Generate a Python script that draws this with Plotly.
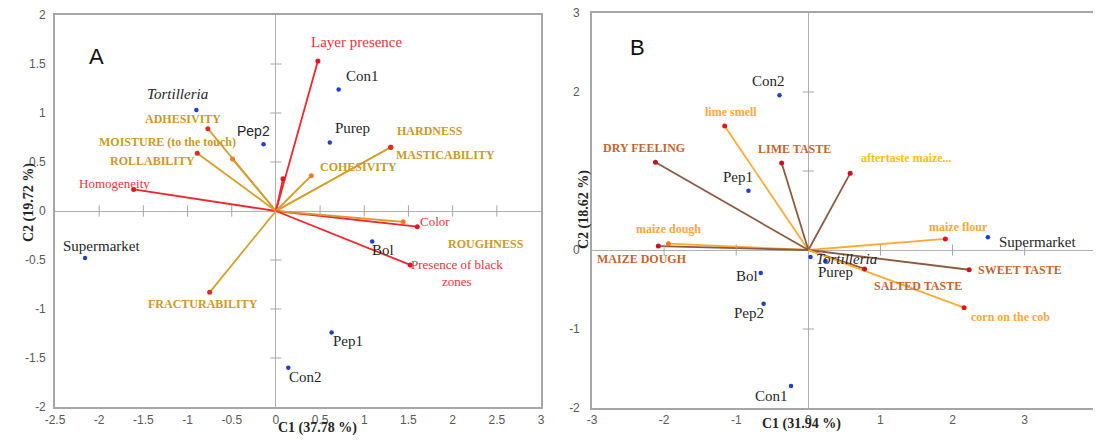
import plotly.graph_objects as go

# the page body adds an 8 px margin, so the figure is drawn 8 px smaller and all layout pixels are offset
OFF = 8
W, H = 1101 - OFF, 448 - OFF


def px(x):
    return (x - OFF) / W


def py(y):
    return 1 - (y - OFF) / H


# ---------------- Panel A data ----------------
A_samples = ["<i>Tortilleria</i>", "Pep2", "Con1", "Purep", "Supermarket", "Bol", "Pep1", "Con2"]
A_samp_x = [-0.90, -0.14, 0.71, 0.61, -2.16, 1.09, 0.63, 0.14]
A_samp_y = [1.03, 0.68, 1.24, 0.70, -0.48, -0.31, -1.24, -1.60]
A_samp_shift = [(-19, 16), (-10, 13), (24, 13), (23, 14), (16, 12), (11, -9), (16, -8), (17, -9)]
A_samp_font = ["Liberation Serif", "Liberation Sans", "Liberation Serif", "Liberation Serif",
               "Liberation Serif", "Liberation Serif", "Liberation Serif", "Liberation Serif"]

A_vars = ["Homogeneity", "ADHESIVITY", "MOISTURE (to the touch)", "ROLLABILITY", "Layer presence", "",
          "COHESIVITY", "HARDNESS", "MASTICABILITY", "Color", "ROUGHNESS",
          "Presence of black<br>zones", "FRACTURABILITY"]
A_var_x = [-1.61, -0.77, -0.49, -0.89, 0.475, 0.08, 0.40, 1.30, 1.30, 1.60, 1.44, 1.52, -0.75]
A_var_y = [0.22, 0.84, 0.53, 0.59, 1.53, 0.33, 0.36, 0.65, 0.65, -0.16, -0.11, -0.55, -0.83]
A_var_group = ["red", "gold", "gold2", "gold", "red", "red", "gold2", "gold", "gold", "red", "gold2", "red", "gold"]
A_var_shift = [(-19, 6), (-25, 10), (-65, 17), (-45, -8), (39, 19), (0, 0), (47, 9), (39, 16), (55, -8),
               (18, 5), (83, -22), (47, -8), (-7, -12)]

# ---------------- Panel B data ----------------
B_samples = ["Con2", "Pep1", "<i>Tortilleria</i>", "Purep", "Bol", "Pep2", "Con1", "Supermarket"]
B_samp_x = [-0.40, -0.83, 0.03, 0.24, -0.66, -0.62, -0.24, 2.49]
B_samp_y = [1.96, 0.75, -0.09, -0.14, -0.29, -0.68, -1.72, 0.16]
B_samp_shift = [(-11, 14), (-10, 14), (36, -2), (10, -11), (-14, -3), (-15, -9), (-20, -10), (50, -5)]

B_vars = ["lime smell", "DRY FEELING", "LIME TASTE", "aftertaste maize...", "maize dough", "MAIZE DOUGH",
          "maize flour", "SWEET TASTE", "SALTED TASTE", "corn on the cob"]
B_var_x = [-1.16, -2.12, -0.37, 0.58, -1.94, -2.08, 1.90, 2.23, 0.78, 2.16]
B_var_y = [1.57, 1.11, 1.10, 0.97, 0.08, 0.05, 0.14, -0.25, -0.24, -0.73]
B_var_group = ["orange", "brown", "brown", "yellow", "orange", "brown", "orange", "brown", "brown", "orange"]
B_var_shift = [(6, 14), (-11, 14), (13, 14), (56, 15), (0, 15), (-16, -13), (13, 12), (51, 0), (53, -17), (46, -9)]

A_xticks = [-2.5, -2, -1.5, -1, -0.5, 0, 0.5, 1, 1.5, 2, 2.5, 3]
A_yticks = [-2, -1.5, -1, -0.5, 0, 0.5, 1, 1.5, 2]
B_xticks = [-3, -2, -1, 0, 1, 2, 3, 4]
B_yticks = [-2, -1, 0, 1, 2, 3]
B_ytext = ["-2", "-1", "0", "", "2", "3"]

# ---------------- styles ----------------
line_col = {"red": "#F0262A", "gold": "#D4A02A", "gold2": "#D9982A",
            "orange": "#FFAA33", "brown": "#8C5A3C", "yellow": "#8C5A3C"}
dot_col = {"red": "#E8141C", "gold": "#E02A1C", "gold2": "#F07A1E",
           "orange": "#E8141C", "brown": "#D0101C", "yellow": "#D0101C"}
txt_col = {"red": "#F0303A", "gold": "#CC9A1E", "gold2": "#CC9A1E",
           "orange": "#FFA736", "brown": "#C8642D", "yellow": "#FFC000"}
B_dot_override = {"maize dough": "#F07A1E"}

GRAY = "#A6A6A6"
fig = go.Figure()
ann = []


def add_panel(xref, yref, vx, vy, groups, names, shifts, sx, sy, snames, sshifts, sfonts):
    for i in range(len(vx)):
        g = groups[i]
        fig.add_trace(go.Scatter(x=[0, vx[i]], y=[0, vy[i]], mode="lines",
                                 line=dict(color=line_col[g], width=1.8),
                                 xaxis=xref, yaxis=yref, hoverinfo="skip", showlegend=False))
    for i in range(len(vx)):
        g = groups[i]
        c = B_dot_override.get(names[i], dot_col[g]) if xref == "x2" else dot_col[g]
        fig.add_trace(go.Scatter(x=[vx[i]], y=[vy[i]], mode="markers",
                                 marker=dict(color=c, size=5),
                                 xaxis=xref, yaxis=yref, hoverinfo="skip", showlegend=False))
        if names[i]:
            is_red = g == "red"
            size = 12
            if is_red:
                size = 15 if names[i] == "Layer presence" else 13
            txt = names[i] if is_red else "<b>" + names[i] + "</b>"
            ann.append(dict(x=vx[i], y=vy[i], xref=xref, yref=yref, text=txt, showarrow=False,
                            xshift=shifts[i][0], yshift=shifts[i][1],
                            font=dict(family="Liberation Serif", size=size, color=txt_col[g])))
    fig.add_trace(go.Scatter(x=sx, y=sy, mode="markers", marker=dict(color="#1F3FD0", size=4.5),
                             xaxis=xref, yaxis=yref, hoverinfo="skip", showlegend=False))
    for i in range(len(sx)):
        ann.append(dict(x=sx[i], y=sy[i], xref=xref, yref=yref, text=snames[i], showarrow=False,
                        xshift=sshifts[i][0], yshift=sshifts[i][1],
                        font=dict(family=sfonts[i], size=15 if sfonts[i] == "Liberation Serif" else 14,
                                  color="#262626")))


add_panel("x", "y", A_var_x, A_var_y, A_var_group, A_vars, A_var_shift,
          A_samp_x, A_samp_y, A_samples, A_samp_shift, A_samp_font)
add_panel("x2", "y2", B_var_x, B_var_y, B_var_group, B_vars, B_var_shift,
          B_samp_x, B_samp_y, B_samples, B_samp_shift, ["Liberation Serif"] * len(B_samples))

# tick crosses on the zero lines
for xref, yref, xt, yt in [("x", "y", A_xticks, A_yticks), ("x2", "y2", B_xticks, B_yticks)]:
    xs = [v for v in xt if v != 0 and v != xt[0] and v != xt[-1]]
    ys = [v for v in yt if v != 0 and v != yt[0] and v != yt[-1]]
    fig.add_trace(go.Scatter(x=xs, y=[0] * len(xs), mode="markers",
                             marker=dict(symbol="line-ns", size=8, line=dict(color=GRAY, width=1)),
                             xaxis=xref, yaxis=yref, hoverinfo="skip", showlegend=False))
    fig.add_trace(go.Scatter(x=[0] * len(ys), y=ys, mode="markers",
                             marker=dict(symbol="line-ew", size=8, line=dict(color=GRAY, width=1)),
                             xaxis=xref, yaxis=yref, hoverinfo="skip", showlegend=False))

axis_common = dict(showgrid=False, zeroline=True, zerolinecolor="#B0B0B0", zerolinewidth=1,
                   showline=True, linecolor=GRAY, linewidth=1.6, mirror=True, ticks="",
                   automargin=False, ticklabeloverflow="allow",
                   tickfont=dict(family="Liberation Sans", size=12, color="#595959"))

fig.update_layout(
    width=W, height=H, margin=dict(l=0, r=0, t=0, b=0, autoexpand=False),
    paper_bgcolor="white", plot_bgcolor="white", showlegend=False,
    xaxis=dict(domain=[px(55), px(541)], range=[-2.5, 3], tickvals=A_xticks,
               ticktext=[f"{v:g}" for v in A_xticks], anchor="y", ticklabelstandoff=1, **axis_common),
    yaxis=dict(domain=[py(407), py(15)], range=[-2, 2], tickvals=A_yticks,
               ticktext=[f"{v:g}" for v in A_yticks], anchor="x", ticklabelstandoff=5, **axis_common),
    xaxis2=dict(domain=[px(592), px(1097)], range=[-3, 4.003], tickvals=B_xticks,
                ticktext=[f"{v:g}" for v in B_xticks], anchor="y2", ticklabelstandoff=0, **axis_common),
    yaxis2=dict(domain=[py(408), py(13)], range=[-2, 3], tickvals=B_yticks,
                ticktext=B_ytext, anchor="x2", ticklabelstandoff=8, **axis_common),
)

# panel letters and axis titles
ann += [
    dict(x=px(87), y=py(42), xref="paper", yref="paper", text="A", showarrow=False,
         font=dict(family="Liberation Sans", size=22, color="#111111")),
    dict(x=px(637), y=py(33), xref="paper", yref="paper", text="B", showarrow=False,
         font=dict(family="Liberation Sans", size=22, color="#111111")),
    dict(x=px(276), y=py(438), xref="paper", yref="paper", text="<b>C1 (37.78 %)</b>", showarrow=False,
         font=dict(family="Liberation Serif", size=14, color="#262626")),
    dict(x=px(843), y=py(434), xref="paper", yref="paper", text="<b>C1 (31.94 %)</b>", showarrow=False,
         font=dict(family="Liberation Serif", size=14, color="#262626")),
    dict(x=px(19), y=py(203), xref="paper", yref="paper", text="<b>C2 (19.72 %)</b>", showarrow=False,
         textangle=-90, font=dict(family="Liberation Serif", size=14, color="#262626")),
    dict(x=px(584), y=py(210), xref="paper", yref="paper", text="<b>C2 (18.62 %)</b>", showarrow=False,
         textangle=-90, font=dict(family="Liberation Serif", size=14, color="#262626")),
]
fig.update_layout(annotations=ann)
fig.write_html("out.html")
